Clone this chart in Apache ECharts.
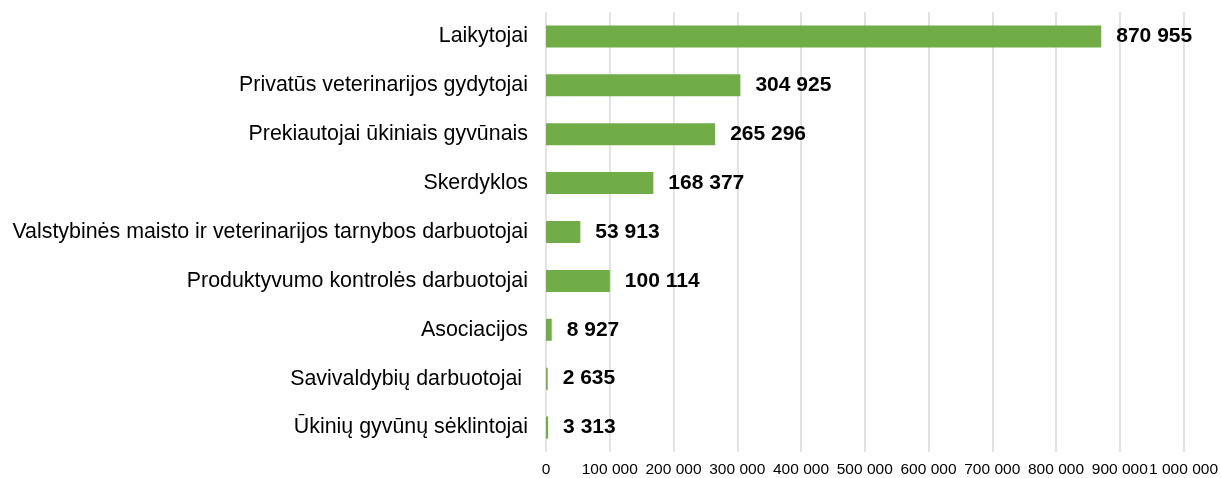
<!DOCTYPE html>
<html>
<head>
<meta charset="utf-8">
<script src="https://cdn.jsdelivr.net/npm/echarts@6/dist/echarts.min.js"></script>
<style>
  html, body { margin: 0; padding: 0; background: #fff; }
  #main { width: 1221px; height: 478px; }
</style>
</head>
<body>
<div id="main"></div>
<script>
// categories from top to bottom
var categories = [
  'Laikytojai',
  'Privatūs veterinarijos gydytojai',
  'Prekiautojai ūkiniais gyvūnais',
  'Skerdyklos',
  'Valstybinės maisto ir veterinarijos tarnybos darbuotojai',
  'Produktyvumo kontrolės darbuotojai',
  'Asociacijos',
  'Savivaldybių darbuotojai ',
  'Ūkinių gyvūnų sėklintojai'
];
var values = [870955, 304925, 265296, 168377, 53913, 100114, 8927, 2635, 3313];

function fmt(v) {
  return String(v).replace(/\B(?=(\d{3})+(?!\d))/g, ' ');
}

var myChart = echarts.init(document.getElementById('main'));
myChart.setOption({
  animation: false,
  grid: { left: 546, right: 37, top: 12, bottom: 24, containLabel: false },
  xAxis: {
    type: 'value',
    min: 0,
    max: 1000000,
    interval: 100000,
    axisLine: { show: false },
    axisTick: { show: false },
    splitLine: { show: true, lineStyle: { color: '#d9d9d9', width: 1.5 } },
    axisLabel: {
      color: '#000',
      fontFamily: 'Liberation Sans, Arial, sans-serif',
      fontSize: 15.5,
      margin: 10,
      showMinLabel: true,
      showMaxLabel: true,
      hideOverlap: false,
      formatter: function (v) { return fmt(v); }
    }
  },
  yAxis: {
    type: 'category',
    inverse: true,
    data: categories,
    axisLine: { show: false },
    axisTick: { show: false },
    axisLabel: {
      color: '#000',
      fontFamily: 'Liberation Sans, Arial, sans-serif',
      fontSize: 21.4,
      margin: 18,
      padding: [7, 0, 0, 0]
    }
  },
  series: [{
    type: 'bar',
    data: values,
    barWidth: 22,
    itemStyle: { color: '#70ad47' },
    label: {
      show: true,
      position: 'right',
      distance: 15,
      color: '#000',
      fontWeight: 'bold',
      fontFamily: 'Liberation Sans, Arial, sans-serif',
      fontSize: 21,
      padding: [7, 0, 0, 0],
      formatter: function (p) { return fmt(p.value); }
    }
  }]
});
</script>
</body>
</html>
